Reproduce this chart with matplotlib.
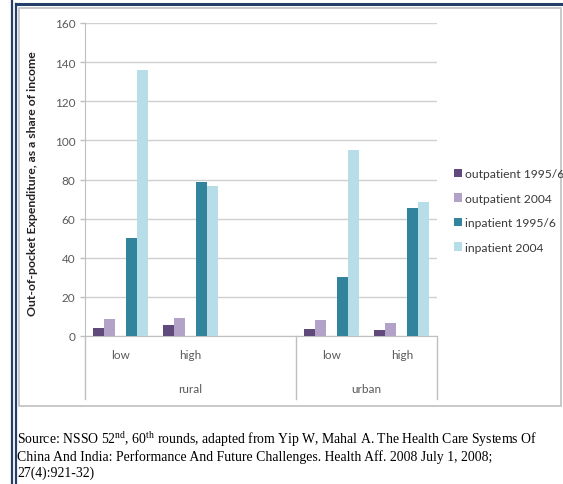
import matplotlib.pyplot as plt
import numpy as np
from matplotlib.lines import Line2D
from matplotlib.patches import Rectangle

# Dados
categorias = ['low', 'high', '', 'low', 'high']
grupos = ['rural', 'urban']
series = ['outpatient 1995/6', 'outpatient 2004', 'inpatient 1995/6', 'inpatient 2004']
outpatient_1995 = [3.9, 5.6, 0, 3.7, 3.1]
outpatient_2004 = [8.7, 9.0, 0, 8.2, 6.8]
inpatient_1995 = [50.3, 78.7, 0, 30.3, 65.4]
inpatient_2004 = [136, 76.5, 0, 95, 68.5]
valores = [outpatient_1995, outpatient_2004, inpatient_1995, inpatient_2004]
cores = ['#604A7B', '#B3A2C7', '#31849B', '#B7DEE8']
posicoes_slot = [-2, -1, 1, 2]

cinza = '#595959'
plt.rcParams['font.family'] = ['Lato', 'DejaVu Sans']
plt.rcParams['mathtext.fontset'] = 'custom'
plt.rcParams['mathtext.rm'] = 'Liberation Serif'

W, H = 563, 485
fig = plt.figure(figsize=(W / 100, H / 100), dpi=100)

def fx(px):
    return px / W

def fy(py):
    return 1 - py / H

# Molduras
fig.add_artist(Rectangle((fx(19), fy(407)), fx(561) - fx(19), fy(9) - fy(407),
                         transform=fig.transFigure, fill=False, edgecolor='#C0C0C0', lw=1.2))
navy = '#24406A'
fig.add_artist(Line2D([fx(11.5), fx(11.5)], [0, 1], transform=fig.transFigure, color=navy, lw=1.6))
fig.add_artist(Line2D([fx(15.5), fx(15.5)], [0, fy(4.5)], transform=fig.transFigure, color=navy, lw=1.6))
fig.add_artist(Line2D([fx(15.5), 1], [fy(4.5), fy(4.5)], transform=fig.transFigure, color=navy, lw=2.2))

ax = fig.add_axes([fx(85), fy(337), fx(437) - fx(85), fy(24) - fy(337)])

x = np.arange(len(categorias)) + 0.5
larg = 0.157
for vals, cor, nome, k in zip(valores, cores, series, posicoes_slot):
    ax.bar(x + k * larg, vals, width=larg, color=cor, label=nome, zorder=3)

ax.set_xlim(0, len(categorias))
ax.set_ylim(0, 160)
ax.set_yticks(np.arange(0, 161, 20))
ax.yaxis.grid(True, color='#D0D0D0', lw=1, zorder=0)
ax.set_xticks([])
for s in ['top', 'right']:
    ax.spines[s].set_visible(False)
ax.spines['left'].set_color('#BFBFBF')
ax.spines['bottom'].set_color('#BFBFBF')
ax.tick_params(axis='y', colors='#BFBFBF', labelcolor=cinza, labelsize=8.5, length=3.5, width=1)

ax.set_ylabel('Out-of-pocket Expenditure, as a share of income', fontsize=8.8,
              fontweight='bold', color='#222222', labelpad=12, y=0.49)

# Eixo de categorias (dois níveis)
trans = ax.get_xaxis_transform()
for xv in [0, 3, 5]:
    ax.plot([xv, xv], [0, -(400 - 337) / (337 - 24)], transform=trans,
            color='#BFBFBF', lw=1, clip_on=False)
for xi, c in zip(x, categorias):
    ax.text(xi, -(356 - 337) / (337 - 24), c, transform=trans, ha='center', va='center',
            fontsize=8.5, color=cinza)
ax.text(1.5, -(390 - 337) / (337 - 24), grupos[0], transform=trans, ha='center', va='center',
        fontsize=8.5, color=cinza)
ax.text(4.0, -(390 - 337) / (337 - 24), grupos[1], transform=trans, ha='center', va='center',
        fontsize=8.5, color=cinza)

fig.legend(loc='upper left', bbox_to_anchor=(fx(454), fy(169)), frameon=False,
           fontsize=8.7, handlelength=0.7, handleheight=0.7, handletextpad=0.2,
           labelspacing=1.12, labelcolor='#3a3a3a', borderaxespad=0, borderpad=0)

# Fonte
fonte = ('Source: NSSO 52$^{\\rm nd}$, 60$^{\\rm th}$ rounds, adapted from Yip W, Mahal A. '
         'The Health Care Systems Of\n'
         'China And India: Performance And Future Challenges. Health Aff. 2008 July 1, 2008;\n'
         '27(4):921-32)')
fig.text(fx(17), fy(429), fonte, ha='left', va='top', fontsize=9.9,
         family='Liberation Serif', color='black', linespacing=1.18)

fig.savefig('out.png', dpi=100)
